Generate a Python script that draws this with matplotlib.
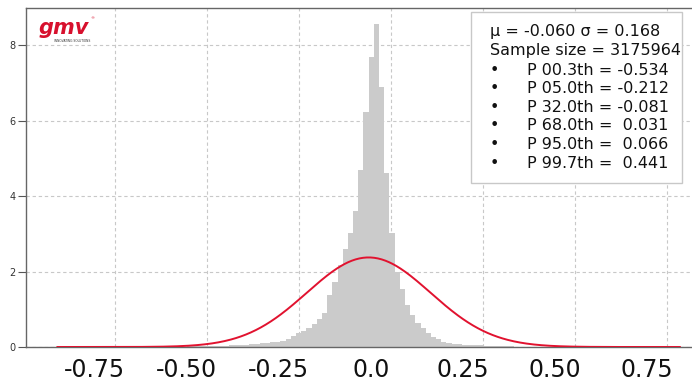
import numpy as np
import matplotlib
matplotlib.use("Agg")
import matplotlib.pyplot as plt
from matplotlib.transforms import ScaledTranslation

# ---------------- data ----------------
hist_lo = -0.906
hist_hi = 0.786
n_bins = 120
density = [
    0.0, 0.0, 0.0, 0.0, 0.0, 0.0, 0.0, 0.0, 0.0, 0.0,
    0.001, 0.001, 0.001, 0.001, 0.001,
    0.002, 0.003, 0.004, 0.005, 0.006,
    0.007, 0.008, 0.009, 0.010, 0.012,
    0.014, 0.016, 0.018, 0.020, 0.023,
    0.026, 0.030, 0.035, 0.042, 0.050,
    0.058, 0.066, 0.076, 0.088, 0.100,
    0.112, 0.125, 0.140, 0.160, 0.200,
    0.28, 0.36, 0.42, 0.50, 0.62,
    0.74, 0.90, 1.38, 1.73, 2.17,
    2.59, 3.03, 3.61, 4.69, 6.24,
    7.70, 8.56, 6.89, 4.61, 3.02,
    2.00, 1.53, 1.11, 0.85, 0.64,
    0.50, 0.37, 0.27, 0.20, 0.14,
    0.11, 0.09, 0.075, 0.065, 0.055,
    0.046, 0.040, 0.034, 0.029, 0.025,
    0.021, 0.018, 0.015, 0.013, 0.011,
    0.009, 0.008, 0.007, 0.006, 0.005,
    0.004, 0.004, 0.003, 0.003, 0.002,
    0.002, 0.002, 0.001, 0.001, 0.001,
    0.001, 0.001, 0.001, 0.001, 0.001,
    0.0, 0.0, 0.0, 0.0, 0.0, 0.0, 0.0, 0.0, 0.0, 0.0,
]
assert len(density) == n_bins

mu = -0.060
sigma = 0.168
sample_size = 3175964
pct_names = ["00.3", "05.0", "32.0", "68.0", "95.0", "99.7"]
pct_values = [-0.534, -0.212, -0.081, 0.031, 0.066, 0.441]

x_ticks = [-0.75, -0.50, -0.25, 0.0, 0.25, 0.50, 0.75]
x_tick_labels = ["-0.75", "-0.50", "-0.25", "0.0", "0.25", "0.50", "0.75"]
y_ticks = [0, 2, 4, 6, 8]

# ---------------- figure ----------------
W, H = 692, 381
fig = plt.figure(figsize=(W / 100, H / 100), dpi=100)
fig.patch.set_facecolor("white")

ax_left_px, ax_right_px = 26.3, 711.0
ax_top_px, ax_bottom_px = 8.0, 347.0
ax = fig.add_axes([ax_left_px / W, 1 - ax_bottom_px / H,
                   (ax_right_px - ax_left_px) / W, (ax_bottom_px - ax_top_px) / H])

edges = np.linspace(hist_lo, hist_hi, n_bins + 1)
ax.stairs(density, edges, fill=True, color="#cbcbcb", linewidth=0, zorder=2)

xc = np.linspace(hist_lo, hist_hi, 500)
yc = np.exp(-0.5 * ((xc - mu) / sigma) ** 2) / (sigma * np.sqrt(2 * np.pi))
ax.plot(xc, yc, color="#e1122f", linewidth=1.4, zorder=3)

span = hist_hi - hist_lo
ax.set_xlim(hist_lo - 0.05 * span, hist_hi + 0.05 * span)
ax.set_ylim(0, max(density) * 1.05)

ax.grid(True, color="#c8c8c8", linestyle=(0, (3, 2.5)), linewidth=0.8, zorder=0)
ax.set_axisbelow(True)

ax.set_xticks(x_ticks)
ax.set_xticklabels(x_tick_labels, fontsize=17, color="#111111")
ax.set_yticks(y_ticks)
ax.set_yticklabels([str(v) for v in y_ticks], fontsize=7, color="#333333")
ax.tick_params(axis="x", length=0, pad=8)
ax.tick_params(axis="y", length=6, width=0.8, color="#555555", pad=2)

offset = ScaledTranslation(-0.20, 0, fig.dpi_scale_trans)
for lab in ax.get_xticklabels():
    lab.set_transform(lab.get_transform() + offset)

for s in ["left", "bottom", "top"]:
    ax.spines[s].set_color("#666666")
    ax.spines[s].set_linewidth(1.0)
ax.spines["right"].set_visible(False)

# ---------------- stats box ----------------
box_l, box_t, box_r, box_b = 471, 12, 682, 183
fig.patches.append(plt.Rectangle((box_l / W, 1 - box_b / H), (box_r - box_l) / W,
                                 (box_b - box_t) / H, transform=fig.transFigure,
                                 facecolor="white", edgecolor="#c8c8c8", linewidth=1.0,
                                 zorder=5))

header = [f"μ = {mu:.3f} σ = {sigma:.3f}", f"Sample size = {sample_size}"]
bullets = ["•"] * len(pct_names)
pct_lines = [f"P {name}th = {val:6.3f}" for name, val in zip(pct_names, pct_values)]

fs_box = 11.5
ls_box = 1.3
row_px = 19.3
y0 = 24
fig.text(490 / W, 1 - y0 / H, "\n".join(header), fontsize=fs_box, va="top", ha="left",
         linespacing=ls_box, color="#111111", zorder=6)
fig.text(490 / W, 1 - (y0 + 2 * row_px) / H, "\n".join(bullets), fontsize=fs_box, va="top",
         ha="left", linespacing=ls_box, color="#111111", zorder=6)
fig.text(527 / W, 1 - (y0 + 2 * row_px) / H, "\n".join(pct_lines), fontsize=fs_box, va="top",
         ha="left", linespacing=ls_box, color="#111111", zorder=6)

# ---------------- logo ----------------
fig.text(39 / W, 1 - 34 / H, "gmv", fontsize=15, fontweight="bold", fontstyle="italic",
         color="#d7102d", ha="left", va="baseline", zorder=6)
fig.text(90 / W, 1 - 18 / H, "®", fontsize=3, color="#d7102d", ha="left", va="center")
fig.text(54 / W, 1 - 41.5 / H, "INNOVATING SOLUTIONS", fontsize=2.2, color="#333333",
         ha="left", va="center")

fig.savefig("out.png", dpi=100, facecolor="white")
